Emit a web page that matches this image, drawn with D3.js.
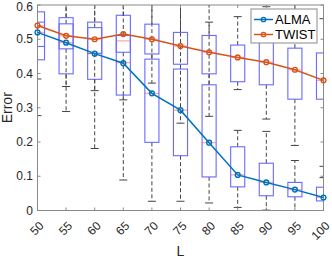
<!DOCTYPE html>
<html lang="en">
<head>
    <meta charset="UTF-8">
    <title>ALMA vs TWIST error</title>
    <script src="https://d3js.org/d3.v7.min.js"></script>
    <style>
        body { margin: 0; background: #fff; }
        svg { display: block; font-family: "Liberation Sans", Arial, sans-serif; }
        .tick-label { font-size: 12px; fill: #262626; }
        .axis-title { font-size: 14px; fill: #262626; }
        .legend-text { font-size: 13px; fill: #000; }
    </style>
</head>
<body>
    <svg id="chart" width="332" height="258"></svg>

    <script>
        const L = [50, 55, 60, 65, 70, 75, 80, 85, 90, 95, 100];
        const almaErr  = [0.520, 0.490, 0.458, 0.430, 0.342, 0.293, 0.198, 0.104, 0.082, 0.061, 0.038];
        const twistErr = [0.540, 0.510, 0.500, 0.515, 0.500, 0.480, 0.462, 0.447, 0.433, 0.411, 0.380];

        // box statistics (whiskers above 0.6 are cut by the axes)
        const twistLo  = [0.384, 0.362, 0.350, 0.323, 0.372, 0.255, 0.275, 0.353, 0.267, 0.190, 0.129];
        const twistQ1  = [0.479, 0.472, 0.459, 0.462, 0.457, 0.427, 0.399, 0.376, 0.367, 0.325, 0.325];
        const twistMed = [0.540, 0.510, 0.500, 0.495, 0.500, 0.480, 0.462, 0.447, 0.433, 0.411, 0.380];
        const twistQ3  = [0.550, 0.545, 0.534, 0.511, 0.544, 0.520, 0.511, 0.483, 0.500, 0.474, 0.460];
        const twistHi  = [0.640, 0.650, 0.650, 0.650, 0.650, 0.650, 0.550, 0.566, 0.595, 0.650, 0.560];

        const almaLo  = [0.277, 0.289, 0.181, 0.089, 0.027, 0.027, 0.022, 0.009, 0.001, 0.000, 0.000];
        const almaQ1  = [0.440, 0.399, 0.383, 0.337, 0.199, 0.160, 0.098, 0.069, 0.043, 0.040, 0.028];
        const almaMed = [0.520, 0.490, 0.458, 0.432, 0.342, 0.293, 0.198, 0.104, 0.082, 0.061, 0.038];
        const almaQ3  = [0.580, 0.563, 0.550, 0.570, 0.442, 0.413, 0.367, 0.186, 0.138, 0.082, 0.068];
        const almaHi  = [0.650, 0.650, 0.650, 0.650, 0.650, 0.650, 0.650, 0.234, 0.231, 0.146, 0.096];

        const yTicks = [0, 0.1, 0.2, 0.3, 0.4, 0.5, 0.6];
        const seriesNames = ["ALMA", "TWIST"];
        const seriesColors = ["#0072BD", "#D95319"];

        const margin = { top: 5, right: 8.5, bottom: 47.5, left: 37.5 };
        const W = 332, H = 258;
        const x = d3.scaleLinear().domain([50, 100]).range([margin.left, W - margin.right]);
        const y = d3.scaleLinear().domain([0, 0.6]).range([H - margin.bottom, margin.top]);
        const halfBox = x(51.23) - x(50);
        const halfCap = x(50.7) - x(50);

        const svg = d3.select("#chart");

        svg.append("defs").append("clipPath").attr("id", "plot-clip")
            .append("rect")
            .attr("x", x(50)).attr("y", y(0.6))
            .attr("width", x(100) - x(50)).attr("height", y(0) - y(0.6));

        const plot = svg.append("g").attr("clip-path", "url(#plot-clip)");

        function drawBoxes(lo, q1, med, q3, hi) {
            const stats = L.map((l, i) => ({ l, lo: lo[i], q1: q1[i], med: med[i], q3: q3[i], hi: hi[i] }));
            const g = plot.append("g");
            const b = g.selectAll("g").data(stats).enter().append("g");

            // whiskers
            b.append("line")
                .attr("x1", d => x(d.l)).attr("x2", d => x(d.l))
                .attr("y1", d => y(d.q3)).attr("y2", d => y(d.hi))
                .attr("stroke", "#444").attr("stroke-width", 1).attr("stroke-dasharray", "4,2.5");
            b.append("line")
                .attr("x1", d => x(d.l)).attr("x2", d => x(d.l))
                .attr("y1", d => y(d.q1)).attr("y2", d => y(d.lo))
                .attr("stroke", "#444").attr("stroke-width", 1).attr("stroke-dasharray", "4,2.5");
            // caps
            b.append("line")
                .attr("x1", d => x(d.l) - halfCap).attr("x2", d => x(d.l) + halfCap)
                .attr("y1", d => y(d.hi)).attr("y2", d => y(d.hi))
                .attr("stroke", "#444").attr("stroke-width", 1);
            b.append("line")
                .attr("x1", d => x(d.l) - halfCap).attr("x2", d => x(d.l) + halfCap)
                .attr("y1", d => y(d.lo)).attr("y2", d => y(d.lo))
                .attr("stroke", "#444").attr("stroke-width", 1);
            // box
            b.append("rect")
                .attr("x", d => x(d.l) - halfBox)
                .attr("y", d => y(d.q3))
                .attr("width", halfBox * 2)
                .attr("height", d => y(d.q1) - y(d.q3))
                .attr("fill", "none").attr("stroke", "#6a6aff").attr("stroke-width", 1.1);
            // median
            b.append("line")
                .attr("x1", d => x(d.l) - halfBox).attr("x2", d => x(d.l) + halfBox)
                .attr("y1", d => y(d.med)).attr("y2", d => y(d.med))
                .attr("stroke", "#ff6060").attr("stroke-opacity", 0.55).attr("stroke-width", 1.2);
        }

        drawBoxes(almaLo, almaQ1, almaMed, almaQ3, almaHi);
        drawBoxes(twistLo, twistQ1, twistMed, twistQ3, twistHi);

        // axes box with inward ticks
        const axisColor = "#8a8a8a";
        const axes = svg.append("g");
        axes.append("rect")
            .attr("x", x(50)).attr("y", y(0.6))
            .attr("width", x(100) - x(50)).attr("height", y(0) - y(0.6))
            .attr("fill", "none").attr("stroke", axisColor).attr("stroke-width", 1);

        L.forEach(l => {
            axes.append("line").attr("x1", x(l)).attr("x2", x(l))
                .attr("y1", y(0)).attr("y2", y(0) - 3).attr("stroke", axisColor);
            axes.append("line").attr("x1", x(l)).attr("x2", x(l))
                .attr("y1", y(0.6)).attr("y2", y(0.6) + 3).attr("stroke", axisColor);
            axes.append("text")
                .attr("class", "tick-label")
                .attr("transform", `translate(${x(l) + 4},${y(0) + 13}) rotate(-45)`)
                .attr("dy", "0.35em")
                .attr("text-anchor", "end")
                .text(l);
        });

        yTicks.forEach(t => {
            axes.append("line").attr("x1", x(50)).attr("x2", x(50) + 3)
                .attr("y1", y(t)).attr("y2", y(t)).attr("stroke", axisColor);
            axes.append("line").attr("x1", x(100)).attr("x2", x(100) - 3)
                .attr("y1", y(t)).attr("y2", y(t)).attr("stroke", axisColor);
            axes.append("text")
                .attr("class", "tick-label")
                .attr("x", x(50) - 4.5)
                .attr("y", Math.max(y(t), 7))   // keep the top label inside the page
                .attr("dy", "0.35em")
                .attr("text-anchor", "end")
                .text(t === 0 ? "0" : t.toFixed(1));
        });

        svg.append("text")
            .attr("class", "axis-title")
            .attr("x", (x(50) + x(100)) / 2)
            .attr("y", H - 2)
            .attr("text-anchor", "middle")
            .text("L");

        svg.append("text")
            .attr("class", "axis-title")
            .attr("transform", `translate(${12},${(y(0) + y(0.6)) / 2}) rotate(-90)`)
            .attr("text-anchor", "middle")
            .text("Error");

        // mean lines
        const seriesVals = [almaErr, twistErr];
        const line = d3.line().x((d, i) => x(L[i])).y(d => y(d));
        seriesVals.forEach((vals, k) => {
            const g = svg.append("g");
            g.append("path")
                .datum(vals)
                .attr("d", line)
                .attr("fill", "none")
                .attr("stroke", seriesColors[k])
                .attr("stroke-width", 1.5);
            g.selectAll("circle").data(vals).enter().append("circle")
                .attr("cx", (d, i) => x(L[i]))
                .attr("cy", d => y(d))
                .attr("r", 2.4)
                .attr("fill", "none")
                .attr("stroke", seriesColors[k])
                .attr("stroke-width", 1.4);
        });

        // legend
        const lg = svg.append("g").attr("transform", "translate(251,9)");
        lg.append("rect")
            .attr("width", 66).attr("height", 34)
            .attr("fill", "#fff").attr("stroke", axisColor);
        seriesNames.forEach((name, k) => {
            const ly = 10.5 + k * 15;
            lg.append("line").attr("x1", 3).attr("x2", 22).attr("y1", ly).attr("y2", ly)
                .attr("stroke", seriesColors[k]).attr("stroke-width", 1.5);
            lg.append("circle").attr("cx", 12.5).attr("cy", ly).attr("r", 2.2)
                .attr("fill", "none").attr("stroke", seriesColors[k]).attr("stroke-width", 1.3);
            lg.append("text").attr("class", "legend-text")
                .attr("x", 24).attr("y", ly).attr("dy", "0.35em")
                .text(name);
        });
    </script>
</body>
</html>
